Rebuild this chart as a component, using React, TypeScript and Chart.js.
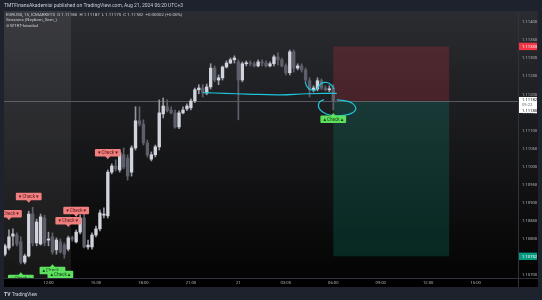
import React, { useEffect, useRef } from "react";
import { Chart, registerables } from "chart.js";

Chart.register(...registerables);

// EURUSD 15-minute bars. Bars are numbered from 20 Aug 12:00 (= 0); the first visible bar is number -11 (09:15).
const firstBarNumber = -11;

const candleOpen = [
  1.10758, 1.10775, 1.10808, 1.10811, 1.10792, 1.10736, 1.10753, 1.10869, 1.10789, 1.10786, 1.10858,
  1.10797, 1.10806, 1.1077, 1.10792, 1.10783, 1.10772, 1.10803, 1.10792, 1.10819, 1.10858, 1.10778, 1.10778,
  1.10811, 1.10828, 1.10866, 1.10864, 1.10985, 1.11002, 1.10991, 1.11033, 1.11024, 1.10985, 1.11052, 1.11127,
  1.11118, 1.11066, 1.11021, 1.11033, 1.11055, 1.11146, 1.11166, 1.11157, 1.11149, 1.1111, 1.11149, 1.1116,
  1.11163, 1.11182, 1.11213, 1.11218, 1.11204, 1.11221, 1.11273, 1.1124, 1.11246, 1.11276, 1.11287, 1.11296,
  1.1129, 1.1124, 1.11285, 1.11287, 1.11285, 1.11279, 1.1129, 1.11287, 1.11279, 1.11285, 1.11304, 1.11296,
  1.11279, 1.1126, 1.11318, 1.11273, 1.11279, 1.11268, 1.11238, 1.11213, 1.11215, 1.11238, 1.11218, 1.11213,
  1.11218,
];
const candleHigh = [
  1.10786, 1.10825, 1.10828, 1.10817, 1.10806, 1.10758, 1.10877, 1.10888, 1.10855, 1.10869, 1.10866,
  1.10819, 1.10817, 1.10803, 1.108, 1.10789, 1.10808, 1.10808, 1.10825, 1.10866, 1.10886, 1.10797, 1.10817,
  1.10836, 1.1088, 1.10886, 1.10991, 1.11008, 1.11019, 1.11046, 1.11052, 1.11033, 1.11058, 1.11166, 1.11166,
  1.1113, 1.11074, 1.11041, 1.1106, 1.11185, 1.1119, 1.11185, 1.11166, 1.11157, 1.11155, 1.11166, 1.11174,
  1.11188, 1.11218, 1.11227, 1.11227, 1.11229, 1.11285, 1.11279, 1.11254, 1.11279, 1.11293, 1.11301, 1.11307,
  1.11296, 1.1129, 1.11293, 1.11293, 1.1129, 1.11296, 1.11296, 1.11293, 1.1129, 1.11309, 1.11315, 1.11301,
  1.11285, 1.11323, 1.11323, 1.11285, 1.11285, 1.11273, 1.11246, 1.11224, 1.11246, 1.11243, 1.11224, 1.11224,
  1.11227,
];
const candleLow = [
  1.10753, 1.1077, 1.10781, 1.10781, 1.10731, 1.10731, 1.1075, 1.10781, 1.10781, 1.10783, 1.10781,
  1.10781, 1.10758, 1.10758, 1.10761, 1.10747, 1.10767, 1.10794, 1.10789, 1.10814, 1.10775, 1.10772, 1.10772,
  1.10806, 1.10822, 1.10858, 1.10858, 1.1098, 1.10988, 1.10985, 1.10994, 1.10963, 1.10974, 1.11046, 1.11113,
  1.1106, 1.11027, 1.11016, 1.11027, 1.11046, 1.11135, 1.11152, 1.11146, 1.11107, 1.11105, 1.11146, 1.11155,
  1.11157, 1.11177, 1.11202, 1.11193, 1.11199, 1.11215, 1.11235, 1.11227, 1.1124, 1.11273, 1.11285, 1.11287,
  1.1113, 1.11235, 1.11279, 1.11279, 1.11276, 1.11276, 1.11279, 1.11276, 1.11276, 1.11279, 1.11282, 1.11276,
  1.11254, 1.11254, 1.11262, 1.11268, 1.11262, 1.11235, 1.11193, 1.11207, 1.1121, 1.11213, 1.1121, 1.11207,
  1.11157,
];
const candleClose = [
  1.10781, 1.10806, 1.10814, 1.10786, 1.10736, 1.10753, 1.10869, 1.10789, 1.10847, 1.10861, 1.10789,
  1.108, 1.10764, 1.10797, 1.10764, 1.10758, 1.10803, 1.108, 1.10819, 1.10858, 1.10778, 1.10783, 1.10811,
  1.10828, 1.10872, 1.10869, 1.10985, 1.11002, 1.10994, 1.11038, 1.10999, 1.10974, 1.11052, 1.11127, 1.11118,
  1.11066, 1.11033, 1.11033, 1.11055, 1.11149, 1.11168, 1.11155, 1.11149, 1.1111, 1.11149, 1.11157, 1.11168,
  1.11182, 1.11213, 1.11218, 1.11204, 1.11221, 1.11273, 1.1124, 1.11246, 1.11276, 1.11287, 1.11296, 1.11301,
  1.1124, 1.11285, 1.11287, 1.11285, 1.11279, 1.1129, 1.11287, 1.11279, 1.11285, 1.11304, 1.11296, 1.11279,
  1.1126, 1.11318, 1.11273, 1.11279, 1.11268, 1.1124, 1.11213, 1.11218, 1.11238, 1.11218, 1.11213, 1.11215,
  1.11182,
];

const timeTickLabels = ["12:00", "15:00", "18:00", "21:00", "21", "03:00", "06:00", "09:00", "12:00", "15:00"];
const barsPerTimeTick = 12;
const visibleFromBar = -11.25;
const visibleToBar = 118.7;
const priceMin = 1.10692;
const priceMax = 1.11431;
const priceStep = 0.0005;

const lastPrice = 1.11182;
const lastPriceTagLines = ["1.11182", "09:22", "1.11180"];
const sessionEndBar = 5.7;

// short position tool
const positionFromBar = 72;
const positionToBar = 101.3;
const positionEntry = 1.11182;
const positionStop = 1.11333;
const positionTarget = 1.10752;

// "Check" signal labels (tip position)
const sellSignalBars = [15, -5, -10, 7, 5];
const sellSignalPrices = [1.11021, 1.109, 1.10852, 1.10861, 1.10833];
const buySignalBars = [-7, 1, 3, 72];
const buySignalPrices = [1.10708, 1.1073, 1.10719, 1.11149];

// cyan hand drawings
const trendLineBars = [39.1, 44.6, 50.1, 58.5, 65.3, 72.9];
const trendLinePrices = [1.11205, 1.11203, 1.11201, 1.11199, 1.11202, 1.11203];
const arcBars = [64.9, 65.4, 66.4, 67.6, 68.4, 69.2, 70.4, 71.4, 72.2];
const arcPrices = [1.11235, 1.11221, 1.11213, 1.11213, 1.11224, 1.11232, 1.11233, 1.11227, 1.11215];
const loopBars = [69.65, 68.4, 68.5, 70.2, 72.9, 75.9, 77.6, 77.0, 74.7, 72.9];
const loopPrices = [1.11186, 1.11177, 1.1116, 1.11146, 1.11141, 1.11145, 1.11157, 1.11174, 1.11183, 1.11185];

const headerText = "TMTFinansAkademisi published on TradingView.com, Aug 21, 2024 06:20 UTC+3";
const legendLines = [
  "EURUSD, 15, ICMARKETS  O 1.11180  H 1.11187  L 1.11175  C 1.11182  +0.00002 (+0.00%)",
  "Sessions (Neyborn_Sam_)",
  "\u2298 WTKT-Istanbul",
];

const FONT = "Roboto, 'Liberation Sans', sans-serif";
const FRAME = "#1e222d";
const UP = "#d1d4dc";
const DOWN = "#5d606b";
const UP_WICK = "#9598a1";
const DOWN_WICK = "#5d606b";
const CYAN = "#1fc3d9";

function roundRectPath(ctx: CanvasRenderingContext2D, x: number, y: number, w: number, h: number, r: number) {
  ctx.moveTo(x + r, y);
  ctx.lineTo(x + w - r, y);
  ctx.quadraticCurveTo(x + w, y, x + w, y + r);
  ctx.lineTo(x + w, y + h - r);
  ctx.quadraticCurveTo(x + w, y + h, x + w - r, y + h);
  ctx.lineTo(x + r, y + h);
  ctx.quadraticCurveTo(x, y + h, x, y + h - r);
  ctx.lineTo(x, y + r);
  ctx.quadraticCurveTo(x, y, x + r, y);
  ctx.closePath();
}

function drawSignal(ctx: CanvasRenderingContext2D, cx: number, tipY: number, up: boolean) {
  const text = up ? "\u25B2Check\u25B2" : "\u25BCCheck\u25BC";
  ctx.font = `4.6px ${FONT}`;
  const w = ctx.measureText(text).width + 4;
  const h = 7.5;
  const p = 2.6;
  const bx = cx - w / 2;
  const by = up ? tipY + p : tipY - p - h;
  ctx.fillStyle = up ? "#5ee05e" : "#f08080";
  ctx.beginPath();
  roundRectPath(ctx, bx, by, w, h, 1);
  ctx.fill();
  ctx.beginPath();
  if (up) {
    ctx.moveTo(cx - p, by + 0.5);
    ctx.lineTo(cx, tipY);
    ctx.lineTo(cx + p, by + 0.5);
  } else {
    ctx.moveTo(cx - p, by + h - 0.5);
    ctx.lineTo(cx, tipY);
    ctx.lineTo(cx + p, by + h - 0.5);
  }
  ctx.closePath();
  ctx.fill();
  ctx.fillStyle = up ? "#0f4014" : "#5e1717";
  ctx.textAlign = "center";
  ctx.textBaseline = "middle";
  ctx.fillText(text, cx, by + h / 2 + 0.3);
}

function priceTag(ctx: CanvasRenderingContext2D, x: number, w: number, top: number, h: number, bg: string, lines: string[], colors: string[]) {
  ctx.fillStyle = bg;
  ctx.fillRect(x, top, w, h);
  ctx.font = `4.2px ${FONT}`;
  ctx.textAlign = "left";
  ctx.textBaseline = "middle";
  const lh = h / lines.length;
  lines.forEach((t, i) => {
    ctx.fillStyle = colors[i];
    ctx.fillText(t, x + 3, top + lh * (i + 0.5) + 0.2);
  });
}

const decor = {
  id: "decor",
  beforeDraw(chart: any) {
    const { ctx, chartArea: a } = chart;
    const W = chart.width;
    const H = chart.height;
    const x = chart.scales.x;
    ctx.save();
    ctx.fillStyle = FRAME;
    ctx.fillRect(0, 0, W, H);
    const g = ctx.createLinearGradient(0, a.top, 0, a.bottom);
    g.addColorStop(0, "#2b2c31");
    g.addColorStop(1, "#040404");
    ctx.fillStyle = g;
    ctx.fillRect(a.left, a.top, W - 4 - a.left, a.bottom - a.top);
    ctx.fillStyle = "#000000";
    ctx.fillRect(a.left, a.bottom, W - 4 - a.left, 9);
    const sx = x.getPixelForValue(sessionEndBar);
    ctx.fillStyle = "rgba(255,255,255,0.075)";
    ctx.fillRect(a.left, a.top, sx - a.left, a.bottom - a.top);
    ctx.restore();
  },
  beforeDatasetsDraw(chart: any) {
    const { ctx, chartArea: a } = chart;
    const { x, y } = chart.scales;
    ctx.save();
    ctx.beginPath();
    ctx.rect(a.left, a.top, a.right - a.left, a.bottom - a.top);
    ctx.clip();
    const x0 = x.getPixelForValue(positionFromBar);
    const x1 = x.getPixelForValue(positionToBar);
    const ye = y.getPixelForValue(positionEntry);
    const ys = y.getPixelForValue(positionStop);
    const yt = y.getPixelForValue(positionTarget);
    ctx.fillStyle = "rgba(242,54,69,0.2)";
    ctx.fillRect(x0, ys, x1 - x0, ye - ys);
    ctx.fillStyle = "rgba(8,153,129,0.22)";
    ctx.fillRect(x0, ye, x1 - x0, yt - ye);
    const yl = Math.round(y.getPixelForValue(lastPrice)) + 0.5;
    ctx.strokeStyle = "rgba(125,128,136,0.6)";
    ctx.lineWidth = 1;
    ctx.beginPath();
    ctx.moveTo(a.left, yl);
    ctx.lineTo(a.right, yl);
    ctx.stroke();
    ctx.restore();
  },
  afterDatasetsDraw(chart: any) {
    const { ctx, chartArea: a } = chart;
    const { x, y } = chart.scales;
    ctx.save();
    ctx.beginPath();
    ctx.rect(a.left, a.top, a.right - a.left, a.bottom - a.top);
    ctx.clip();
    sellSignalBars.forEach((b, i) => drawSignal(ctx, x.getPixelForValue(b), y.getPixelForValue(sellSignalPrices[i]), false));
    buySignalBars.forEach((b, i) => drawSignal(ctx, x.getPixelForValue(b), y.getPixelForValue(buySignalPrices[i]), true));
    ctx.restore();
  },
  afterDraw(chart: any) {
    const { ctx, chartArea: a } = chart;
    const { y } = chart.scales;
    const W = chart.width;
    ctx.save();
    // header
    ctx.fillStyle = "#c9ccd4";
    ctx.font = `5px ${FONT}`;
    ctx.textAlign = "left";
    ctx.textBaseline = "middle";
    ctx.fillText(headerText, 4, 5.3);
    // legend
    ctx.font = `4.4px ${FONT}`;
    legendLines.forEach((t, i) => {
      ctx.fillStyle = "#c9ccd4";
      ctx.fillText(t, 6, 14.7 + i * 5.7);
    });
    // price axis tags
    const tx = a.right + 1;
    const tw = W - 5 - tx;
    const ysp = y.getPixelForValue(positionStop);
    priceTag(ctx, tx, tw, ysp - 3.7, 7.4, "#f23645", [positionStop.toFixed(5)], ["#ffffff"]);
    const ylp = y.getPixelForValue(lastPrice);
    priceTag(ctx, tx, tw, ylp - 4, 16, "#ffffff", lastPriceTagLines, ["#131722", "#6a6d78", "#131722"]);
    const ytp = y.getPixelForValue(positionTarget);
    priceTag(ctx, tx, tw, ytp - 3.7, 7.4, "#089981", [positionTarget.toFixed(5)], ["#ffffff"]);
    // axis separators
    ctx.strokeStyle = "#2f323b";
    ctx.lineWidth = 1;
    ctx.beginPath();
    ctx.moveTo(a.right + 0.5, a.top);
    ctx.lineTo(a.right + 0.5, a.bottom + 9);
    ctx.moveTo(a.left, a.bottom + 0.5);
    ctx.lineTo(W - 4, a.bottom + 0.5);
    ctx.stroke();
    // bottom logo
    ctx.fillStyle = "#d1d4dc";
    ctx.font = `bold 5px ${FONT}`;
    ctx.fillText("TV", 4, 294.6);
    ctx.font = `4.6px ${FONT}`;
    ctx.fillText("TradingView", 12, 294.6);
    ctx.restore();
  },
};

export default function App() {
  const ref = useRef<HTMLCanvasElement>(null);
  useEffect(() => {
    if (!ref.current) return;
    const bars = candleOpen.map((_, i) => firstBarNumber + i);
    const isUp = candleOpen.map((o, i) => candleClose[i] >= o);
    const bodies = bars.map((b, i) => ({ x: b, y: [candleOpen[i], candleClose[i]] }));
    const wicks = bars.map((b, i) => ({ x: b, y: [candleLow[i], candleHigh[i]] }));
    const pts = (xs: number[], ys: number[]) => xs.map((b, i) => ({ x: b, y: ys[i] }));
    const cyanLine = (xs: number[], ys: number[]) => ({
      type: "line" as const,
      data: pts(xs, ys),
      borderColor: CYAN,
      borderWidth: 1.2,
      pointRadius: 0,
      tension: 0.45,
      fill: false,
      order: 0,
    });
    const chart = new Chart(ref.current, {
      type: "bar",
      data: {
        datasets: [
          cyanLine(trendLineBars, trendLinePrices),
          cyanLine(arcBars, arcPrices),
          cyanLine(loopBars, loopPrices),
          {
            type: "bar",
            data: bodies as any,
            backgroundColor: isUp.map((u) => (u ? UP : DOWN)),
            barThickness: 2.7,
            minBarLength: 1,
            grouped: false,
            order: 1,
          },
          {
            type: "bar",
            data: wicks as any,
            backgroundColor: isUp.map((u) => (u ? UP_WICK : DOWN_WICK)),
            barThickness: 1,
            grouped: false,
            order: 2,
          },
        ] as any,
      },
      options: {
        responsive: false,
        animation: false,
        events: [],
        layout: { padding: { left: 4, top: 11, right: 4, bottom: 13 } },
        plugins: { legend: { display: false }, tooltip: { enabled: false } },
        scales: {
          x: {
            type: "linear",
            min: visibleFromBar,
            max: visibleToBar,
            offset: false,
            grid: { display: false, drawTicks: false },
            border: { display: false },
            ticks: {
              stepSize: barsPerTimeTick,
              maxTicksLimit: 20,
              includeBounds: false,
              autoSkip: false,
              maxRotation: 0,
              padding: 2.5,
              color: "#b2b5be",
              font: { family: FONT, size: 4.2 },
              callback: (v: any) => timeTickLabels[Math.round(Number(v) / barsPerTimeTick)] ?? "",
            },
            afterFit: (s: any) => {
              s.height = 9;
            },
          },
          y: {
            type: "linear",
            position: "right",
            min: priceMin,
            max: priceMax,
            grid: { display: false, drawTicks: false },
            border: { display: false },
            ticks: {
              stepSize: priceStep,
              maxTicksLimit: 20,
              includeBounds: false,
              padding: 4,
              color: "#b2b5be",
              font: { family: FONT, size: 4.2 },
              callback: (v: any) => Number(v).toFixed(5),
            },
            afterFit: (s: any) => {
              s.width = 20;
            },
          },
        },
      } as any,
      plugins: [decor],
    });
    return () => chart.destroy();
  }, []);
  return (
    <div style={{ position: "fixed", left: 0, top: 0, width: 542, height: 300 }}>
      <canvas ref={ref} width={542} height={300} style={{ display: "block", width: 542, height: 300 }} />
    </div>
  );
}
